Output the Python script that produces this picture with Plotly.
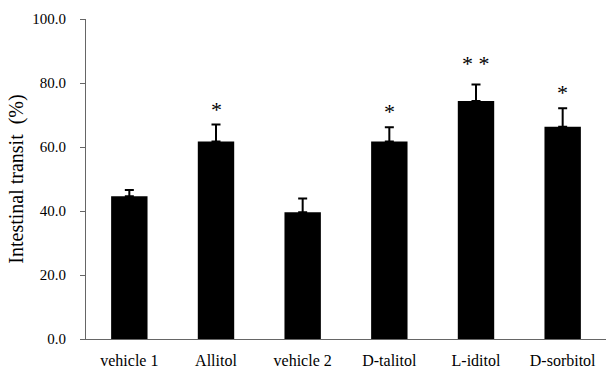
import plotly.graph_objects as go

categories = ["vehicle 1", "Allitol", "vehicle 2", "D-talitol", "L-iditol", "D-sorbitol"]
means = [44.6, 61.7, 39.6, 61.7, 74.4, 66.3]
errors = [2.0, 5.3, 4.3, 4.5, 5.1, 5.8]
stars = ["", "*", "", "*", "* *", "*"]
yticks = [0, 20, 40, 60, 80, 100]

font = "Liberation Serif, Times New Roman, serif"

fig = go.Figure()
fig.add_trace(go.Bar(
    x=categories, y=means,
    marker=dict(color="black", line=dict(width=0)),
    error_y=dict(type="data", array=errors, arrayminus=[0]*len(errors),
                 symmetric=False, color="black", thickness=2, width=4.5),
    width=0.42,
))

for c, m, e, s in zip(categories, means, errors, stars):
    if s:
        fig.add_annotation(x=c, y=m + e, text=s, showarrow=False,
                           yanchor="bottom", yshift=1 + 6 * (s.count("*") - 1),
                           font=dict(family=font, size=22, color="black"))

fig.update_layout(
    width=611, height=374,
    margin=dict(l=86, r=5, t=19, b=32),
    paper_bgcolor="white", plot_bgcolor="white",
    showlegend=False,
    font=dict(family=font, color="black", size=14),
)
fig.update_xaxes(
    range=[-0.5, 5.5], showline=True, linecolor="#666", linewidth=1,
    ticks="", showgrid=False, tickfont=dict(size=16, family=font),
    ticklabelstandoff=7,
)
fig.update_yaxes(
    range=[0, 100], tickvals=yticks, tickformat=".1f",
    showline=True, linecolor="#666", linewidth=1,
    ticks="outside", ticklen=5, tickcolor="#666", showgrid=False,
    zeroline=False, tickfont=dict(size=15, family=font),
    ticklabelstandoff=11,
    title=dict(text="Intestinal transit  (%)", font=dict(size=20, family=font), standoff=3),
)

fig.write_html("out.html")
